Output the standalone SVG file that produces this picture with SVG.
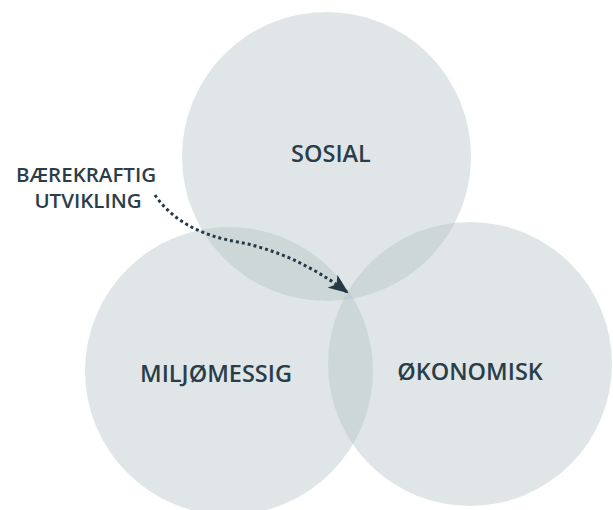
<svg xmlns="http://www.w3.org/2000/svg" width="613" height="510" viewBox="0 0 613 510">
<style>
.c{fill:#b1c0c3;fill-opacity:0.4}
.lbl{font-family:"Open Sans","Noto Sans","Liberation Sans",sans-serif;font-weight:600;fill:#2a3e49;text-anchor:middle}
.big{font-size:23.5px}
.small{font-size:20.5px}
.arrow{fill:none;stroke:#263a45;stroke-width:3;stroke-dasharray:3 3}
</style>
<defs>
<marker id="ah" viewBox="0 0 20 16" refX="18" refY="8" markerWidth="20" markerHeight="16" markerUnits="userSpaceOnUse" orient="auto">
<path d="M0,0 L20,8 L0,16 L5,8 Z" fill="#263a45"/>
</marker>
</defs>
<rect width="613" height="510" fill="#ffffff"/>
<g id="sosial">
<circle class="c" cx="326.5" cy="156.5" r="144.5"/>
<text class="lbl big" x="331" y="161.5">SOSIAL</text>
</g>
<g id="miljomessig">
<circle class="c" cx="229" cy="371" r="144"/>
<text class="lbl big" x="216" y="382">MILJØMESSIG</text>
</g>
<g id="okonomisk">
<circle class="c" cx="470" cy="364" r="142"/>
<text class="lbl big" x="470" y="380">ØKONOMISK</text>
</g>
<g id="baerekraftig">
<text class="lbl small" x="86" y="181.5">BÆREKRAFTIG</text>
<text class="lbl small" x="88" y="207.5">UTVIKLING</text>
</g>
<g id="connectors">
<path class="arrow" d="M155,195 Q180,232 238,242 Q295,253 347,292" marker-end="url(#ah)"/>
</g>
</svg>
